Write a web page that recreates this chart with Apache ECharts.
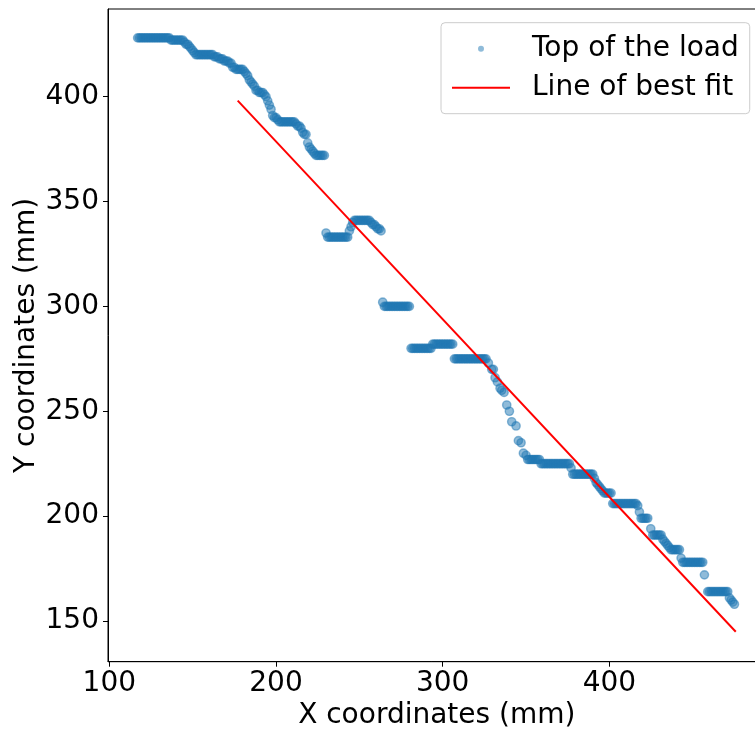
<!DOCTYPE html>
<html>
<head>
<meta charset="utf-8">
<script src="https://cdn.jsdelivr.net/npm/echarts@6/dist/echarts.min.js"></script>
<style>
html,body{margin:0;padding:0;background:#fff;}
#chart{width:755px;height:731px;}
</style>
</head>
<body>
<div id="chart"></div>
<script>
// Scatter: top of the load (mm)
const xValues = [
117,118,119,120,121,122,123,124,125,126,127,128,129,130,131,132,133,134,135,136,
137,138,139,140,141,142,143,144,
145,146,147,148,149,150,151,152,
153,154,155,156,157,158,159,160,161,162,
163,164,165,166,167,168,169,170,171,172,173,174,175,176,177,178,179,180,181,182,183,184,185,186,187,188,189,190,191,192,193,194,195,196,197,198,199,200,201,
202,203,204,205,206,207,208,209,210,211,
212,213,214,215,216,217,218,219,220,221,222,223,
224,225,226,227,228,229,
230,
231,232,233,234,235,236,237,238,239,240,241,242,243,
244,245,246,
247,248,249,250,251,252,253,254,255,256,
257,258,259,260,261,262,263,
264,
265,266,267,268,269,270,271,272,273,274,275,276,277,278,279,280,
281,282,283,284,285,286,287,288,289,290,291,292,293,
294,295,296,297,298,299,300,301,302,303,304,305,306,
307,308,309,310,311,312,313,314,315,316,317,318,319,320,321,322,323,324,325,326,
327.4,329.4,330.4,331.4,332.8,334.4,335.4,336.8,338.4,340.0,341.4,344.0,345.4,347.0,348.4,350.0,
351,352,353,354,355,356,357,358,
359,360,361,362,363,364,365,366,367,368,369,370,371,372,373,374,375,376,
377,
378,379,380,381,382,383,384,385,386,387,388,389,390,
391,392,393,394,395,396,397,
398,399,400,401,
402,403,404,405,406,407,408,409,410,411,412,413,414,415,416,
417,418,
419,420,421,422,423,
424.8,
426,427,428,429,430,431,
432,433,434,435,436,
437,438,439,440,441,442,
443,
444,445,446,447,448,449,450,451,452,453,454,455,456,
457,
459,460,461,462,463,464,465,466,467,468,469,470,471,
472,473,474,475
];
const yValues = [
428,428,428,428,428,428,428,428,428,428,428,428,428,428,428,428,428,428,428,428,
427,427,427,427,427,427,427,427,
426,425,425,424,423,422,421,420,
420,420,420,420,420,420,420,420,420,420,
419,419,419,418,418,418,417,417,417,416,416,414,414,413,413,413,413,413,412,411,410,408,407,406,405,403,403,402,402,402,401,400,398,396,394,391,390,390,389,
388,388,388,388,388,388,388,388,388,388,
387,386,386,385,383,382,382,378,376,375,374,373,
372,372,372,372,372,372,
335,
333,333,333,333,333,333,333,333,333,333,333,333,333,
336,338,340,
341,341,341,341,341,341,341,341,341,341,
340,339,339,338,337,337,336,
302,
300,300,300,300,300,300,300,300,300,300,300,300,300,300,300,300,
280,280,280,280,280,280,280,280,280,280,280,280,280,
282,282,282,282,282,282,282,282,282,282,282,282,282,
275,275,275,275,275,275,275,275,275,275,275,275,275,275,275,275,275,275,275,275,
273,270,270,266,264,261,260,259,253,250,245,243,236,235,230,229,
227,227,227,227,227,227,227,227,
225,225,225,225,225,225,225,225,225,225,225,225,225,225,225,225,225,225,
223,
220,220,220,220,220,220,220,220,220,220,220,220,220,
218,216,215,214,213,212,211,
211,211,211,211,
206,206,206,206,206,206,206,206,206,206,206,206,206,206,206,
205,202,
199,199,199,199,199,
194,
191,191,191,191,191,191,
189,188,187,186,185,
184,184,184,184,184,184,
180,
178,178,178,178,178,178,178,178,178,178,178,178,178,
172,
164,164,164,164,164,164,164,164,164,164,164,164,164,
161,160,159,158
];
// Line of best fit end points
const fitX = [177.0, 475.8];
const fitY = [398.1, 144.9];
// Ticks
const xTicks = [100, 200, 300, 400];
const yTicks = [150, 200, 250, 300, 350, 400];
const seriesNames = ['Top of the load', 'Line of best fit'];
const axisNames = ['X coordinates (mm)', 'Y coordinates (mm)'];

const FONT = 'DejaVu Sans';
const scatterData = xValues.map((x, i) => [x, yValues[i]]);
const fitData = fitX.map((x, i) => [x, fitY[i]]);

const chart = echarts.init(document.getElementById('chart'), null, {renderer: 'canvas'});
chart.setOption({
  animation: false,
  backgroundColor: '#ffffff',
  grid: {
    left: 108, top: 9, right: -10.6, bottom: 69.3,
    show: true, borderColor: '#000', borderWidth: 1, backgroundColor: 'transparent',
    containLabel: false, outerBoundsMode: 'none'
  },
  xAxis: {
    type: 'value', min: 99.2, max: 493.7,
    name: axisNames[0], nameLocation: 'middle', nameGap: 40, nameMoveOverlap: false,
    nameTextStyle: {fontFamily: FONT, fontSize: 28, color: '#000'},
    axisLine: {show: true, onZero: false, lineStyle: {color: '#000', width: 1}},
    axisTick: {show: true, inside: false, length: 5, lineStyle: {color: '#000', width: 1}, customValues: xTicks},
    axisLabel: {show: true, margin: 8, fontFamily: FONT, fontSize: 28, color: '#000', customValues: xTicks, formatter: v => String(v)},
    splitLine: {show: false}
  },
  yAxis: {
    type: 'value', min: 130.6, max: 441.8,
    name: axisNames[1], nameLocation: 'middle', nameGap: 67, nameMoveOverlap: false,
    nameTextStyle: {fontFamily: FONT, fontSize: 28, color: '#000'},
    axisLine: {show: true, onZero: false, lineStyle: {color: '#000', width: 1}},
    axisTick: {show: true, inside: false, length: 5, lineStyle: {color: '#000', width: 1}, customValues: yTicks},
    axisLabel: {show: true, margin: 9, fontFamily: FONT, fontSize: 28, color: '#000', customValues: yTicks, formatter: v => String(v)},
    splitLine: {show: false}
  },
  legend: {
    show: true,
    orient: 'vertical', align: 'left',
    left: 441, top: 22.7,
    padding: [12, 11, 12, 10],
    itemGap: 11, itemWidth: 58, itemHeight: 6,
    backgroundColor: '#fff', borderColor: '#cccccc', borderWidth: 1, borderRadius: 4,
    textStyle: {fontFamily: FONT, fontSize: 28, color: '#000', padding: [0, 0, 0, 17]},
    data: [
      {name: seriesNames[0], icon: 'circle', itemStyle: {color: '#1f77b4', opacity: 0.5, borderWidth: 0}},
      {name: seriesNames[1], itemStyle: {color: 'rgba(0,0,0,0)', opacity: 0, borderWidth: 0}}
    ]
  },
  series: [
    {
      name: seriesNames[0], type: 'scatter', data: scatterData,
      symbol: 'circle', symbolSize: 8.3,
      itemStyle: {color: '#1f77b4', opacity: 0.5, borderColor: '#1f77b4', borderWidth: 1.4},
      emphasis: {disabled: true}, z: 2
    },
    {
      name: seriesNames[1], type: 'line', data: fitData,
      symbol: 'none', showSymbol: false,
      lineStyle: {color: '#ff0000', width: 2},
      itemStyle: {color: '#ff0000'},
      emphasis: {disabled: true}, z: 3
    }
  ]
});
</script>
</body>
</html>
